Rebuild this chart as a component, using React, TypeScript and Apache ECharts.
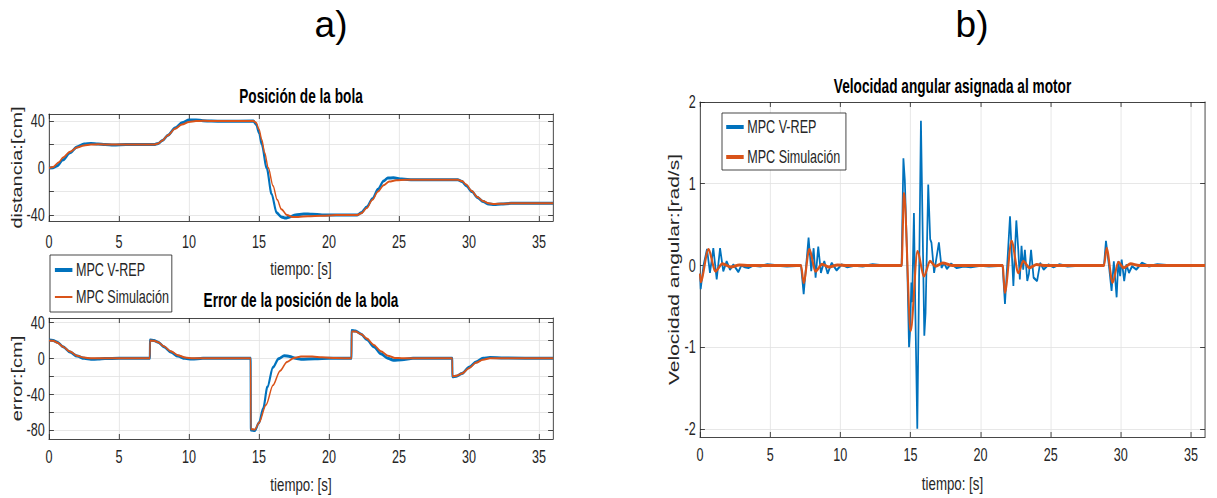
import React, { useEffect, useRef } from "react";
import * as echarts from "echarts";

// ---------------- data ----------------
const timeTicks = [0, 5, 10, 15, 20, 25, 30, 35];
const posTicks = [-40, -20, 0, 20, 40];
const posLabels = [-40, 0, 40];
const errTicks = [-80, -60, -40, -20, 0, 20, 40];
const errLabels = [-80, -40, 0, 40];
const velTicks = [-2, -1, 0, 1, 2];

const seriesNames = ["MPC V-REP", "MPC Simulación"];

const posVrep: [number, number][] = [
  [0, 0], [0.3, 0.3], [0.6, 2], [1.0, 7], [1.5, 13], [2.0, 18], [2.5, 20.5], [3.0, 21], [3.5, 20.5],
  [4.0, 20], [4.6, 19.7], [5.5, 20], [7.5, 20], [7.8, 21], [8.1, 23.5], [8.5, 28], [9.0, 34], [9.5, 38.5],
  [10.0, 40.8], [10.5, 41], [11.0, 40.3], [11.6, 40], [12.5, 39.8], [14.6, 40], [14.8, 37], [15.0, 30],
  [15.2, 20], [15.55, 0], [15.9, -22], [16.26, -38], [16.6, -41.5], [16.9, -42.5], [17.2, -41.5],
  [17.6, -39.8], [18.2, -39], [18.8, -39.3], [19.5, -39.8], [20.5, -40], [22.0, -40], [22.3, -38],
  [22.7, -33], [23.1, -26], [23.5, -18], [23.9, -11], [24.2, -8.5], [24.6, -8.3], [25.2, -9.3], [26, -10],
  [29.2, -10], [29.5, -11.5], [29.8, -15], [30.2, -20], [30.6, -25], [31.0, -28.5], [31.4, -30.5],
  [31.8, -31], [32.3, -30.5], [33, -30], [36, -30],
];

const posSim: [number, number][] = [
  [0, 0], [0.3, 1], [0.7, 5], [1.0, 9], [1.5, 14], [2.0, 17.5], [2.5, 19.3], [3.0, 20], [3.5, 20.2],
  [4.5, 20], [7.5, 20], [7.8, 21], [8.1, 23.5], [8.5, 28], [9.0, 33.5], [9.5, 37], [10.0, 39.2], [10.5, 40],
  [11, 40.3], [12, 40], [14.6, 40], [14.8, 38.5], [15.0, 33], [15.2, 24], [15.4, 13], [15.67, 0], [16.0, -15],
  [16.3, -27], [16.6, -35], [17.0, -40], [17.4, -41.5], [17.8, -41.5], [18.5, -41], [19.5, -40.5],
  [20.5, -40], [22.0, -40], [22.3, -38.5], [22.7, -34], [23.1, -27], [23.5, -20], [23.9, -14.5],
  [24.3, -11.5], [24.8, -10.3], [25.5, -10], [29.2, -10], [29.5, -11], [29.8, -14], [30.2, -19.5],
  [30.6, -24.5], [31.0, -28], [31.4, -30], [31.8, -30.5], [32.5, -30.3], [33, -30], [36, -30],
];

const errVrep: [number, number][] = [
  [0, 20.5], [0.3, 20], [0.6, 18], [1.0, 13], [1.5, 7], [2.0, 2.5], [2.5, 0], [3.0, -1], [3.5, -0.8],
  [4, -0.3], [5, 0], [7.2, 0], [7.22, 20.5], [7.5, 20], [7.8, 18], [8.2, 13], [8.7, 7], [9.2, 2.5],
  [9.7, 0], [10.2, -0.8], [11, 0], [14.4, 0], [14.42, -80], [14.7, -80.5], [15.0, -72], [15.3, -56],
  [15.6, -32], [16.0, -10], [16.4, -0.5], [16.8, 3], [17.2, 2], [17.6, 0], [18.0, -1], [19, -0.5],
  [20, 0], [21.6, 0], [21.62, 31], [21.9, 30.5], [22.3, 27], [22.7, 21], [23.2, 13], [23.7, 5],
  [24.2, 0], [24.6, -2], [25.2, -1.5], [26, 0], [28.8, 0], [28.82, -20.5], [29.1, -20], [29.5, -17],
  [30.0, -10], [30.5, -4], [31, 0], [31.5, 1], [32.5, 0.3], [36, 0],
];

const errSim: [number, number][] = [
  [0, 20], [0.3, 19.5], [0.6, 17.5], [1.0, 13], [1.5, 7.5], [2.0, 3], [2.5, 0.8], [3, 0], [7.2, 0],
  [7.22, 20], [7.5, 19.5], [7.8, 18], [8.2, 13.5], [8.7, 8], [9.2, 3.5], [9.7, 1], [10.3, 0], [14.4, 0],
  [14.42, -79], [14.7, -79.5], [15.0, -72], [15.5, -52], [16.0, -30], [16.5, -14], [17.0, -4],
  [17.5, 0.5], [18.0, 2], [18.8, 2], [19.5, 1.2], [20.5, 0.3], [21.6, 0], [21.62, 30], [21.9, 30],
  [22.3, 27], [22.7, 22], [23.2, 15], [23.7, 8], [24.2, 3], [24.7, 0.5], [25.3, 0], [28.8, 0],
  [28.82, -20], [29.1, -19.5], [29.5, -17], [30.0, -11], [30.5, -5], [31.0, -1.5], [31.5, 0], [36, 0],
];

const velVrep: [number, number][] = [
  [0, -0.1], [0.05, -0.29], [0.25, 0.0], [0.5, 0.2], [0.71, -0.09], [0.95, 0.21], [1.19, -0.17],
  [1.43, 0.21], [1.66, -0.07], [1.9, 0.05], [2.14, -0.05], [2.38, 0.01], [2.73, -0.08], [2.95, 0.0],
  [3.2, -0.02], [3.45, -0.03], [3.8, 0.0], [4.3, -0.01], [4.8, 0.01], [5.5, 0.0], [6.2, -0.01], [7.2, 0],
  [7.39, -0.35], [7.74, 0.34], [7.93, -0.07], [8.1, 0.21], [8.24, -0.15], [8.43, 0.23], [8.62, -0.09],
  [8.86, 0.05], [9.1, -0.1], [9.38, 0.03], [9.74, -0.06], [10.1, 0.01], [10.5, -0.02], [11, 0.0],
  [11.6, -0.01], [12.3, 0.01], [13, 0], [14.37, 0],
  [14.5, 1.31], [14.6, 1.05], [14.75, 0.2], [14.9, -1.0], [14.97, -0.82], [15.07, -0.21], [15.12, -0.45],
  [15.25, 0.64], [15.35, -0.54], [15.49, -2.0], [15.75, 1.77], [15.99, -0.86], [16.08, -0.58],
  [16.27, 0.99], [16.41, 0.32], [16.5, 0.28], [16.69, -0.09], [17.03, 0.28], [17.22, -0.03],
  [17.4, 0.03], [17.6, -0.04], [17.9, 0.02], [18.3, -0.03], [18.8, -0.01], [19.3, -0.02], [20, 0.0],
  [20.6, -0.01], [21.57, 0],
  [21.74, -0.47], [22.1, 0.6], [22.34, -0.25], [22.55, 0.55], [22.69, 0.19], [22.8, -0.17],
  [22.92, 0.24], [23.04, -0.05], [23.16, 0.19], [23.33, -0.19], [23.45, -0.1], [23.6, 0.19],
  [23.78, -0.15], [24.03, -0.19], [24.25, 0.03], [24.5, -0.05], [24.85, 0.01], [25.2, -0.02],
  [25.6, 0.01], [26.2, -0.01], [27, 0.0], [28.8, 0],
  [28.94, 0.3], [29.15, 0.0], [29.34, -0.31], [29.5, 0.05], [29.7, -0.39], [29.82, 0.05], [29.95, -0.13],
  [30.06, 0.07], [30.24, -0.19], [30.4, 0.01], [30.58, -0.09], [30.8, -0.01], [31.1, -0.05],
  [31.5, 0.03], [32, -0.01], [32.6, 0.01], [33.5, 0], [36, 0],
];

const velSim: [number, number][] = [
  [0, -0.1], [0.05, -0.2], [0.6, 0.195], [1.1, -0.07], [1.6, 0.02], [2.2, -0.02], [2.8, 0.005],
  [3.5, 0], [7.2, 0], [7.39, -0.21], [7.79, 0.195], [8.24, -0.07], [8.7, 0.015], [9.2, -0.02],
  [9.8, 0.005], [10.5, 0], [14.37, 0], [14.54, 0.88], [15.02, -0.8], [15.5, 0.17], [15.97, -0.13],
  [16.4, 0.05], [16.8, -0.01], [17.3, 0.03], [18, 0], [21.57, 0], [21.74, -0.33], [22.21, 0.3],
  [22.69, -0.09], [23.04, 0.05], [23.5, -0.03], [24, 0.01], [24.5, 0], [28.8, 0], [28.99, 0.21],
  [29.41, -0.21], [29.82, 0.04], [30.2, -0.03], [30.7, 0.02], [31.3, 0], [36, 0],
];

// ---------------- layout / style ----------------
const S = 0.7; // horizontal squash of the reference figure
const W = Math.round(1217 / S);
const H = 498;
const px = (x: number) => x / S;

const FONT = "'Liberation Sans', Arial, Helvetica, sans-serif";
const AX = "#262626";
const GRIDC = "#e3e3e3";
const BLUE = "#0072BD";
const ORANGE = "#D95319";
const ICON_THICK = "path://M0,0H25V4H0Z";
const ICON_THIN = "path://M0,0H25V2H0Z";

function xAxes(gridIndex: number, labelMargin: number, nameGap: number) {
  return [
    {
      type: "value", gridIndex, min: 0, max: 36, position: "bottom",
      axisLine: { show: true, onZero: false, lineStyle: { color: AX, width: 1 } },
      axisTick: { show: true, inside: true, length: 5, customValues: timeTicks, lineStyle: { color: AX } },
      axisLabel: { customValues: timeTicks, color: AX, fontSize: 18, fontFamily: FONT, margin: labelMargin },
      splitLine: { show: true, lineStyle: { color: GRIDC, width: 1 } },
      name: "tiempo: [s]", nameLocation: "middle", nameGap,
      nameTextStyle: { fontSize: 19, color: AX, fontFamily: FONT },
    },
    {
      type: "value", gridIndex, min: 0, max: 36, position: "top",
      axisLine: { show: true, onZero: false, lineStyle: { color: AX, width: 1 } },
      axisTick: { show: true, inside: true, length: 5, customValues: timeTicks, lineStyle: { color: AX } },
      axisLabel: { show: false },
      splitLine: { show: false },
    },
  ];
}

function yAxes(gridIndex: number, min: number, max: number, ticks: number[], labels: number[], name: string, nameGap: number, nameSize: number) {
  return [
    {
      type: "value", gridIndex, min, max, position: "left",
      axisLine: { show: true, onZero: false, lineStyle: { color: AX, width: 1 } },
      axisTick: { show: true, inside: true, length: 7, customValues: ticks, lineStyle: { color: AX } },
      axisLabel: { customValues: labels, color: AX, fontSize: 18, fontFamily: FONT, margin: 6 },
      splitLine: { show: true, lineStyle: { color: GRIDC, width: 1 } },
      name, nameLocation: "middle", nameRotate: 90, nameGap,
      nameTextStyle: { fontSize: nameSize, color: AX, fontFamily: FONT },
    },
    {
      type: "value", gridIndex, min, max, position: "right",
      axisLine: { show: true, onZero: false, lineStyle: { color: AX, width: 1 } },
      axisTick: { show: true, inside: true, length: 7, customValues: ticks, lineStyle: { color: AX } },
      axisLabel: { show: false },
      splitLine: { show: false },
    },
  ];
}

function lineSeries(name: string, data: [number, number][], axis: number, color: string, width: number, smooth: boolean | number) {
  return {
    type: "line", name, data, xAxisIndex: axis, yAxisIndex: axis,
    symbol: "none", showSymbol: false, smooth, smoothMonotone: "x",
    lineStyle: { color, width }, itemStyle: { color },
  };
}

function legendAt(left: number, top: number, padding: number[], gap: number, thinSim: boolean) {
  return {
    left, top, orient: "vertical", padding, itemGap: gap, itemWidth: 25, itemHeight: 14,
    backgroundColor: "#fff", borderColor: AX, borderWidth: 1, borderRadius: 0,
    textStyle: { fontSize: 18, color: AX, fontFamily: FONT },
    selectedMode: false, symbolKeepAspect: true,
    data: [
      { name: seriesNames[0], icon: ICON_THICK, itemStyle: { color: BLUE, borderWidth: 0 } },
      { name: seriesNames[1], icon: thinSim ? ICON_THIN : ICON_THICK, itemStyle: { color: ORANGE, borderWidth: 0 } },
    ],
  };
}

export default function App() {
  const ref = useRef<HTMLDivElement>(null);
  useEffect(() => {
    if (!ref.current) return;
    const chart = echarts.init(ref.current, undefined, { renderer: "svg" });
    const option: any = {
      animation: false,
      backgroundColor: "#fff",
      grid: [
        { left: px(49), top: 114, width: px(504), height: 107, show: false },
        { left: px(49), top: 318, width: px(504), height: 121, show: false },
        { left: px(700), top: 102, width: px(505), height: 337, show: false },
      ],
      xAxis: [...xAxes(0, 12, 38), ...xAxes(1, 9, 36), ...xAxes(2, 8.5, 37)],
      yAxis: [
        ...yAxes(0, -45, 46, posTicks, posLabels, "distancia:[cm]", 33, 20),
        ...yAxes(1, -90, 45, errTicks, errLabels, "error:[cm]", 33, 20),
        ...yAxes(2, -2.1, 2, velTicks, velTicks, "Velocidad angular:[rad/s]", 26, 21),
      ],
      legend: [
        legendAt(px(50), 255, [6, 4, 6, 7], 9, true),
        legendAt(px(722), 113, [5, 8, 4, 6], 12, false),
      ],
      series: [
        lineSeries(seriesNames[0], posVrep, 0, BLUE, 3, 0.3),
        lineSeries(seriesNames[1], posSim, 0, ORANGE, 2, 0.3),
        lineSeries(seriesNames[0], errVrep, 2, BLUE, 3, 0.3),
        lineSeries(seriesNames[1], errSim, 2, ORANGE, 2, 0.3),
        lineSeries(seriesNames[0], velVrep, 4, BLUE, 2.5, false),
        lineSeries(seriesNames[1], velSim, 4, ORANGE, 3, 0.3),
      ],
      graphic: [
        { type: "text", x: px(331), y: 25, scaleX: 1 / S, style: { text: "a)", fontSize: 37, fontFamily: FONT, fill: "#000", align: "center", verticalAlign: "middle" } },
        { type: "text", x: px(972), y: 25, scaleX: 1 / S, style: { text: "b)", fontSize: 37, fontFamily: FONT, fill: "#000", align: "center", verticalAlign: "middle" } },
        { type: "text", x: px(301), y: 97, style: { text: "Posición de la bola", fontSize: 19.5, fontWeight: "bold", fontFamily: FONT, fill: "#000", align: "center", verticalAlign: "middle" } },
        { type: "text", x: px(301), y: 301, style: { text: "Error de la posición de la bola", fontSize: 19.5, fontWeight: "bold", fontFamily: FONT, fill: "#000", align: "center", verticalAlign: "middle" } },
        { type: "text", x: px(952.5), y: 87, style: { text: "Velocidad angular asignada al motor", fontSize: 19.5, fontWeight: "bold", fontFamily: FONT, fill: "#000", align: "center", verticalAlign: "middle" } },
      ],
    };
    chart.setOption(option);
    return () => chart.dispose();
  }, []);

  return (
    <div style={{ position: "fixed", left: 0, top: 0, width: 1217, height: H, overflow: "hidden", background: "#fff" }}>
      <div ref={ref} style={{ width: W, height: H, transform: `scaleX(${S})`, transformOrigin: "0 0" }} />
    </div>
  );
}
